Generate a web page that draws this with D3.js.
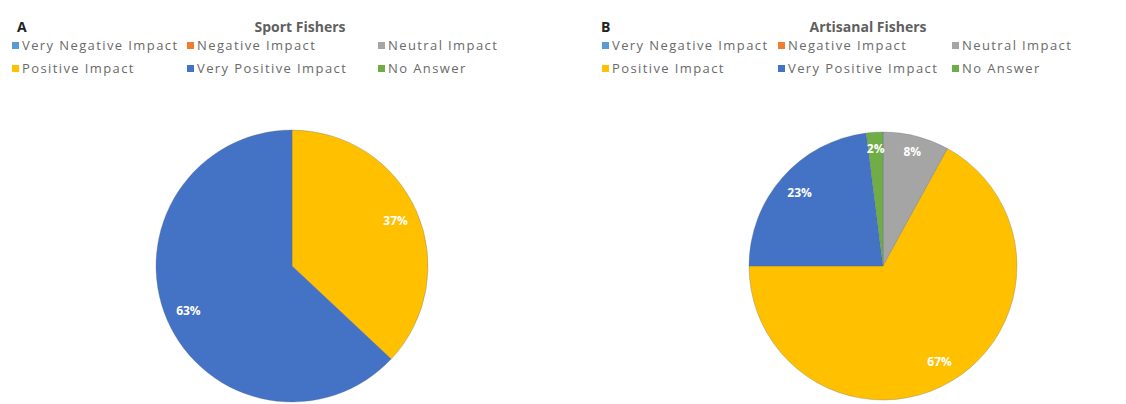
<!DOCTYPE html>
<html><head><meta charset="utf-8">
<script src="https://cdn.jsdelivr.net/npm/d3@7"></script>
<style>
html,body{margin:0;padding:0;background:#fff;}
svg{display:block;font-family:"Open Sans","Liberation Sans",sans-serif;}
</style></head>
<body><svg id="chart" width="1126" height="404"></svg>
<script>
const categories = ["Very Negative Impact","Negative Impact","Neutral Impact","Positive Impact","Very Positive Impact","No Answer"];
const colors = ["#5B9BD5","#ED7D31","#A5A5A5","#FFC000","#4472C4","#70AD47"];
const sportValues = [0,0,0,37,63,0];
const artisanalValues = [0,0,8,67,23,2];
const panelLetters = ["A","B"];
const panelTitles = ["Sport Fishers","Artisanal Fishers"];

const svg = d3.select("#chart");
const panels = [
  {values: sportValues, letterX: 17, cx: 292, cy: 266, r: 136, titleX: 300, colX:[12,187,378]},
  {values: artisanalValues, letterX: 601, cx: 883, cy: 266, r: 134, titleX: 868, colX:[602,778,952]}
];
const color = d3.scaleOrdinal().domain(categories).range(colors);

panels.forEach((p,i)=>{
  const g = svg.append("g");
  g.append("text").attr("x", p.letterX).attr("y", 32).text(panelLetters[i])
    .attr("font-size",14).attr("font-weight","bold").attr("fill","#222");
  g.append("text").attr("x", p.titleX).attr("y", 32).attr("text-anchor","middle")
    .text(panelTitles[i]).attr("font-size",14).attr("font-weight","bold").attr("fill","#5f5f5f");
  categories.forEach((c,k)=>{
    const row = Math.floor(k/3), col = k%3;
    const lx = p.colX[col], ly = 47 + row*23;
    g.append("rect").attr("x", lx).attr("y", ly-5).attr("width",7).attr("height",7).attr("fill", color(c));
    g.append("text").attr("x", lx+10).attr("y", ly+3).text(c)
      .attr("font-size",13).attr("letter-spacing","1.4px").attr("fill","#6a6a6a");
  });
  const data = categories.map((c,k)=>({cat:c, v:p.values[k]}));
  const pie = d3.pie().sort(null).value(d=>d.v);
  const arcs = pie(data);
  const arc = d3.arc().innerRadius(0).outerRadius(p.r);
  const pg = g.append("g").attr("transform",`translate(${p.cx},${p.cy})`);
  pg.selectAll("path").data(arcs.filter(a=>a.data.v>0)).join("path")
    .attr("d", arc).attr("fill", d=>color(d.data.cat))
    .attr("stroke","#5a6a8a").attr("stroke-width",0.6).attr("stroke-opacity",0.5);
  const labelArc = d3.arc().innerRadius(p.r*0.83).outerRadius(p.r*0.83);
  pg.selectAll("text.lbl").data(arcs.filter(a=>a.data.v>0)).join("text")
    .attr("class","lbl")
    .attr("transform", d=>{
      const k = d.data.v < 10 ? 0.88/0.83 : 1;
      const [x,y] = labelArc.centroid(d);
      return `translate(${x*k},${y*k})`;
    })
    .attr("text-anchor","middle").attr("dy","0.35em")
    .attr("font-size",12).attr("font-weight","bold").attr("fill","#fff")
    .text(d=>d.data.v+"%");
});
</script></body></html>
